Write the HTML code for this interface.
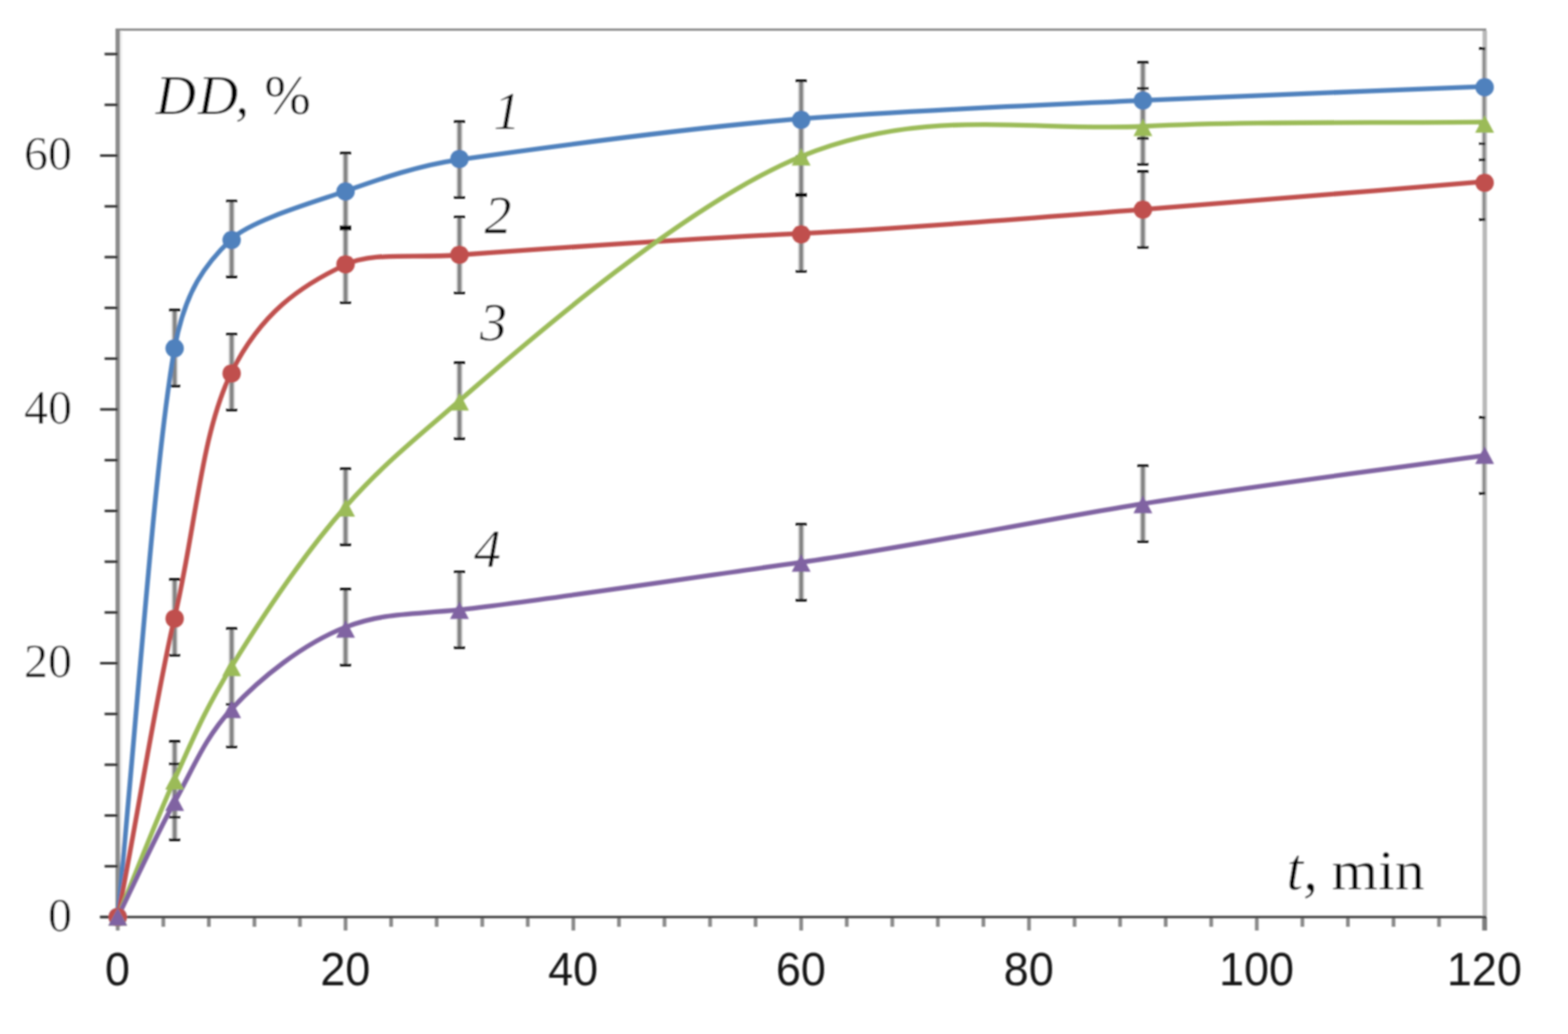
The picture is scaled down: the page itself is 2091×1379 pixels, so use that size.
<!DOCTYPE html>
<html lang="en"><head><meta charset="utf-8"><title>DD vs t</title>
<style>html,body{margin:0;padding:0;background:#fff}svg{display:block}text{font-family:"Liberation Serif",serif;fill:#000;stroke:#fff;stroke-width:0.65px;paint-order:fill stroke}.sans{font-family:"Liberation Sans",sans-serif;stroke:none;fill:#161616}</style></head><body>
<svg width="2091" height="1379" viewBox="0 0 2091 1379">
<defs><filter id="b" x="0" y="0" width="2091" height="1379" filterUnits="userSpaceOnUse"><feGaussianBlur stdDeviation="0.95"/></filter>
<clipPath id="plot"><rect x="157" y="38" width="1823.5" height="1190"/></clipPath></defs>
<rect width="2091" height="1379" fill="#fff"/>
<g filter="url(#b)">
<g fill="none">
<line x1="157" y1="38" x2="157" y2="1224" stroke="#8c8c8c" stroke-width="6"/>
<line x1="161.5" y1="41" x2="161.5" y2="1221" stroke="#efefef" stroke-width="3"/>
<line x1="154" y1="39.5" x2="1982" y2="39.5" stroke="#8a8a8a" stroke-width="3"/>
<line x1="1980" y1="41" x2="1980" y2="1222" stroke="#b9b9b9" stroke-width="6"/>
</g>
<g stroke="#2a2a2a" stroke-width="3.2">
<line x1="133.5" y1="1223.0" x2="157" y2="1223.0"/>
<line x1="139.5" y1="1155.3" x2="157" y2="1155.3"/>
<line x1="139.5" y1="1087.6" x2="157" y2="1087.6"/>
<line x1="139.5" y1="1019.9" x2="157" y2="1019.9"/>
<line x1="139.5" y1="952.2" x2="157" y2="952.2"/>
<line x1="133.5" y1="884.5" x2="157" y2="884.5"/>
<line x1="139.5" y1="816.8" x2="157" y2="816.8"/>
<line x1="139.5" y1="749.1" x2="157" y2="749.1"/>
<line x1="139.5" y1="681.4" x2="157" y2="681.4"/>
<line x1="139.5" y1="613.7" x2="157" y2="613.7"/>
<line x1="133.5" y1="546.0" x2="157" y2="546.0"/>
<line x1="139.5" y1="478.3" x2="157" y2="478.3"/>
<line x1="139.5" y1="410.6" x2="157" y2="410.6"/>
<line x1="139.5" y1="342.9" x2="157" y2="342.9"/>
<line x1="139.5" y1="275.2" x2="157" y2="275.2"/>
<line x1="133.5" y1="207.5" x2="157" y2="207.5"/>
<line x1="139.5" y1="139.8" x2="157" y2="139.8"/>
<line x1="139.5" y1="72.1" x2="157" y2="72.1"/>
</g>
<g stroke="#8a8a8a" stroke-width="5">
<line x1="157.0" y1="1223" x2="157.0" y2="1241.0"/>
<line x1="217.8" y1="1223" x2="217.8" y2="1236.0"/>
<line x1="278.5" y1="1223" x2="278.5" y2="1236.0"/>
<line x1="339.3" y1="1223" x2="339.3" y2="1236.0"/>
<line x1="400.0" y1="1223" x2="400.0" y2="1236.0"/>
<line x1="460.8" y1="1223" x2="460.8" y2="1241.0"/>
<line x1="521.6" y1="1223" x2="521.6" y2="1236.0"/>
<line x1="582.3" y1="1223" x2="582.3" y2="1236.0"/>
<line x1="643.1" y1="1223" x2="643.1" y2="1236.0"/>
<line x1="703.8" y1="1223" x2="703.8" y2="1236.0"/>
<line x1="764.6" y1="1223" x2="764.6" y2="1241.0"/>
<line x1="825.4" y1="1223" x2="825.4" y2="1236.0"/>
<line x1="886.1" y1="1223" x2="886.1" y2="1236.0"/>
<line x1="946.9" y1="1223" x2="946.9" y2="1236.0"/>
<line x1="1007.6" y1="1223" x2="1007.6" y2="1236.0"/>
<line x1="1068.4" y1="1223" x2="1068.4" y2="1241.0"/>
<line x1="1129.2" y1="1223" x2="1129.2" y2="1236.0"/>
<line x1="1189.9" y1="1223" x2="1189.9" y2="1236.0"/>
<line x1="1250.7" y1="1223" x2="1250.7" y2="1236.0"/>
<line x1="1311.4" y1="1223" x2="1311.4" y2="1236.0"/>
<line x1="1372.2" y1="1223" x2="1372.2" y2="1241.0"/>
<line x1="1433.0" y1="1223" x2="1433.0" y2="1236.0"/>
<line x1="1493.7" y1="1223" x2="1493.7" y2="1236.0"/>
<line x1="1554.5" y1="1223" x2="1554.5" y2="1236.0"/>
<line x1="1615.2" y1="1223" x2="1615.2" y2="1236.0"/>
<line x1="1676.0" y1="1223" x2="1676.0" y2="1241.0"/>
<line x1="1736.8" y1="1223" x2="1736.8" y2="1236.0"/>
<line x1="1797.5" y1="1223" x2="1797.5" y2="1236.0"/>
<line x1="1858.3" y1="1223" x2="1858.3" y2="1236.0"/>
<line x1="1919.0" y1="1223" x2="1919.0" y2="1236.0"/>
<line x1="1979.8" y1="1223" x2="1979.8" y2="1241.0" stroke-width="6.5" stroke="#7c7c7c"/>
</g>
<line x1="133.5" y1="1223" x2="1982" y2="1223" stroke="#333" stroke-width="3.2"/>
<g clip-path="url(#plot)">
<g stroke="#e0e0e0" stroke-width="9">
<line x1="232.9" y1="415.5" x2="232.9" y2="512.7"/>
<line x1="308.9" y1="270.1" x2="308.9" y2="367.3"/>
<line x1="460.8" y1="206.3" x2="460.8" y2="303.5"/>
<line x1="612.7" y1="164.2" x2="612.7" y2="261.4"/>
<line x1="1068.4" y1="109.8" x2="1068.4" y2="207.0"/>
<line x1="1524.1" y1="85.3" x2="1524.1" y2="182.5"/>
<line x1="1979.8" y1="66.7" x2="1979.8" y2="163.9"/>
<line x1="232.9" y1="774.7" x2="232.9" y2="871.9"/>
<line x1="308.9" y1="447.6" x2="308.9" y2="544.8"/>
<line x1="460.8" y1="304.4" x2="460.8" y2="401.6"/>
<line x1="612.7" y1="291.4" x2="612.7" y2="388.6"/>
<line x1="1068.4" y1="262.7" x2="1068.4" y2="359.9"/>
<line x1="1524.1" y1="230.7" x2="1524.1" y2="327.9"/>
<line x1="1979.8" y1="193.6" x2="1979.8" y2="290.8"/>
<line x1="232.9" y1="990.7" x2="232.9" y2="1087.9"/>
<line x1="308.9" y1="840.2" x2="308.9" y2="937.4"/>
<line x1="460.8" y1="627.3" x2="460.8" y2="724.5"/>
<line x1="612.7" y1="485.8" x2="612.7" y2="583.0"/>
<line x1="1068.4" y1="160.0" x2="1068.4" y2="257.2"/>
<line x1="1524.1" y1="119.9" x2="1524.1" y2="217.1"/>
<line x1="1979.8" y1="114.0" x2="1979.8" y2="211.2"/>
<line x1="232.9" y1="1020.8" x2="232.9" y2="1118.0"/>
<line x1="308.9" y1="896.9" x2="308.9" y2="994.1"/>
<line x1="460.8" y1="787.8" x2="460.8" y2="885.0"/>
<line x1="612.7" y1="764.6" x2="612.7" y2="861.8"/>
<line x1="1068.4" y1="701.3" x2="1068.4" y2="798.5"/>
<line x1="1524.1" y1="623.2" x2="1524.1" y2="720.4"/>
<line x1="1979.8" y1="558.8" x2="1979.8" y2="656.0"/>
</g><g stroke="#848484" stroke-width="5.4">
<line x1="232.9" y1="413.5" x2="232.9" y2="514.7"/>
<line x1="308.9" y1="268.1" x2="308.9" y2="369.3"/>
<line x1="460.8" y1="204.3" x2="460.8" y2="305.5"/>
<line x1="612.7" y1="162.2" x2="612.7" y2="263.4"/>
<line x1="1068.4" y1="107.8" x2="1068.4" y2="209.0"/>
<line x1="1524.1" y1="83.3" x2="1524.1" y2="184.5"/>
<line x1="1979.8" y1="64.7" x2="1979.8" y2="165.9"/>
<line x1="232.9" y1="772.7" x2="232.9" y2="873.9"/>
<line x1="308.9" y1="445.6" x2="308.9" y2="546.8"/>
<line x1="460.8" y1="302.4" x2="460.8" y2="403.6"/>
<line x1="612.7" y1="289.4" x2="612.7" y2="390.6"/>
<line x1="1068.4" y1="260.7" x2="1068.4" y2="361.9"/>
<line x1="1524.1" y1="228.7" x2="1524.1" y2="329.9"/>
<line x1="1979.8" y1="191.6" x2="1979.8" y2="292.8"/>
<line x1="232.9" y1="988.7" x2="232.9" y2="1089.9"/>
<line x1="308.9" y1="838.2" x2="308.9" y2="939.4"/>
<line x1="460.8" y1="625.3" x2="460.8" y2="726.5"/>
<line x1="612.7" y1="483.8" x2="612.7" y2="585.0"/>
<line x1="1068.4" y1="158.0" x2="1068.4" y2="259.2"/>
<line x1="1524.1" y1="117.9" x2="1524.1" y2="219.1"/>
<line x1="1979.8" y1="112.0" x2="1979.8" y2="213.2"/>
<line x1="232.9" y1="1018.8" x2="232.9" y2="1120.0"/>
<line x1="308.9" y1="894.9" x2="308.9" y2="996.1"/>
<line x1="460.8" y1="785.8" x2="460.8" y2="887.0"/>
<line x1="612.7" y1="762.6" x2="612.7" y2="863.8"/>
<line x1="1068.4" y1="699.3" x2="1068.4" y2="800.5"/>
<line x1="1524.1" y1="621.2" x2="1524.1" y2="722.4"/>
<line x1="1979.8" y1="556.8" x2="1979.8" y2="658.0"/>
</g><g stroke="#000" stroke-width="3.4">
<line x1="225.6" y1="413.5" x2="240.2" y2="413.5"/>
<line x1="225.6" y1="514.7" x2="240.2" y2="514.7"/>
<line x1="301.6" y1="268.1" x2="316.2" y2="268.1"/>
<line x1="301.6" y1="369.3" x2="316.2" y2="369.3"/>
<line x1="453.5" y1="204.3" x2="468.1" y2="204.3"/>
<line x1="453.5" y1="305.5" x2="468.1" y2="305.5"/>
<line x1="605.4" y1="162.2" x2="620.0" y2="162.2"/>
<line x1="605.4" y1="263.4" x2="620.0" y2="263.4"/>
<line x1="1061.1" y1="107.8" x2="1075.7" y2="107.8"/>
<line x1="1061.1" y1="209.0" x2="1075.7" y2="209.0"/>
<line x1="1516.8" y1="83.3" x2="1531.4" y2="83.3"/>
<line x1="1516.8" y1="184.5" x2="1531.4" y2="184.5"/>
<line x1="1972.5" y1="64.7" x2="1987.1" y2="64.7"/>
<line x1="1972.5" y1="165.9" x2="1987.1" y2="165.9"/>
<line x1="225.6" y1="772.7" x2="240.2" y2="772.7"/>
<line x1="225.6" y1="873.9" x2="240.2" y2="873.9"/>
<line x1="301.6" y1="445.6" x2="316.2" y2="445.6"/>
<line x1="301.6" y1="546.8" x2="316.2" y2="546.8"/>
<line x1="453.5" y1="302.4" x2="468.1" y2="302.4"/>
<line x1="453.5" y1="403.6" x2="468.1" y2="403.6"/>
<line x1="605.4" y1="289.4" x2="620.0" y2="289.4"/>
<line x1="605.4" y1="390.6" x2="620.0" y2="390.6"/>
<line x1="1061.1" y1="260.7" x2="1075.7" y2="260.7"/>
<line x1="1061.1" y1="361.9" x2="1075.7" y2="361.9"/>
<line x1="1516.8" y1="228.7" x2="1531.4" y2="228.7"/>
<line x1="1516.8" y1="329.9" x2="1531.4" y2="329.9"/>
<line x1="1972.5" y1="191.6" x2="1987.1" y2="191.6"/>
<line x1="1972.5" y1="292.8" x2="1987.1" y2="292.8"/>
<line x1="225.6" y1="988.7" x2="240.2" y2="988.7"/>
<line x1="225.6" y1="1089.9" x2="240.2" y2="1089.9"/>
<line x1="301.6" y1="838.2" x2="316.2" y2="838.2"/>
<line x1="301.6" y1="939.4" x2="316.2" y2="939.4"/>
<line x1="453.5" y1="625.3" x2="468.1" y2="625.3"/>
<line x1="453.5" y1="726.5" x2="468.1" y2="726.5"/>
<line x1="605.4" y1="483.8" x2="620.0" y2="483.8"/>
<line x1="605.4" y1="585.0" x2="620.0" y2="585.0"/>
<line x1="1061.1" y1="158.0" x2="1075.7" y2="158.0"/>
<line x1="1061.1" y1="259.2" x2="1075.7" y2="259.2"/>
<line x1="1516.8" y1="117.9" x2="1531.4" y2="117.9"/>
<line x1="1516.8" y1="219.1" x2="1531.4" y2="219.1"/>
<line x1="1972.5" y1="112.0" x2="1987.1" y2="112.0"/>
<line x1="1972.5" y1="213.2" x2="1987.1" y2="213.2"/>
<line x1="225.6" y1="1018.8" x2="240.2" y2="1018.8"/>
<line x1="225.6" y1="1120.0" x2="240.2" y2="1120.0"/>
<line x1="301.6" y1="894.9" x2="316.2" y2="894.9"/>
<line x1="301.6" y1="996.1" x2="316.2" y2="996.1"/>
<line x1="453.5" y1="785.8" x2="468.1" y2="785.8"/>
<line x1="453.5" y1="887.0" x2="468.1" y2="887.0"/>
<line x1="605.4" y1="762.6" x2="620.0" y2="762.6"/>
<line x1="605.4" y1="863.8" x2="620.0" y2="863.8"/>
<line x1="1061.1" y1="699.3" x2="1075.7" y2="699.3"/>
<line x1="1061.1" y1="800.5" x2="1075.7" y2="800.5"/>
<line x1="1516.8" y1="621.2" x2="1531.4" y2="621.2"/>
<line x1="1516.8" y1="722.4" x2="1531.4" y2="722.4"/>
<line x1="1972.5" y1="556.8" x2="1987.1" y2="556.8"/>
<line x1="1972.5" y1="658.0" x2="1987.1" y2="658.0"/>
</g></g>
<path d="M157.0,1223.0 C181.8,970.6 205.7,616.5 232.9,464.1 C246.4,388.7 274.3,351.2 308.9,318.7 C336.2,293.1 421.1,268.9 460.8,254.9 C504.6,239.5 556.6,220.7 612.7,212.8 C715.6,198.3 914.5,170.5 1068.4,158.4 C1220.4,146.5 1372.2,141.1 1524.1,133.9 C1676.0,126.7 1827.9,121.5 1979.8,115.3" fill="none" stroke="#4f81bd" stroke-width="6.3" stroke-linecap="round" stroke-linejoin="round"/>
<path d="M157.0,1223.0 C184.7,1082.9 207.4,932.2 232.9,823.3 C261.3,702.8 268.2,577.5 308.9,496.2 C348.3,417.6 400.4,381.2 460.8,353.0 C498.1,335.6 548.7,344.6 612.7,340.0 C708.0,333.1 918.1,318.4 1068.4,311.3 C1220.5,304.1 1372.2,290.8 1524.1,279.3 C1676.0,267.8 1827.9,254.6 1979.8,242.2" fill="none" stroke="#c0504d" stroke-width="6.3" stroke-linecap="round" stroke-linejoin="round"/>
<path d="M157.0,1223.0 C182.3,1161.8 207.6,1095.0 232.9,1039.3 C258.3,983.6 271.4,949.6 308.9,888.8 C349.4,823.1 405.7,738.4 460.8,675.9 C511.9,617.9 557.0,583.1 612.7,534.4 C708.0,451.1 917.1,270.8 1068.4,208.6 C1231.4,141.6 1371.5,175.7 1524.1,168.5 C1676.0,161.3 1827.9,164.6 1979.8,162.6" fill="none" stroke="#9bbb59" stroke-width="6.3" stroke-linecap="round" stroke-linejoin="round"/>
<path d="M157.0,1223.0 C182.3,1171.8 207.3,1115.5 232.9,1069.4 C257.6,1025.2 272.2,985.1 308.9,945.5 C346.9,904.5 404.2,858.5 460.8,836.4 C511.4,816.7 552.0,819.8 612.7,813.2 C717.6,801.8 912.5,771.7 1068.4,749.9 C1220.3,728.7 1369.8,696.6 1524.1,671.8 C1675.9,647.4 1827.9,628.9 1979.8,607.4" fill="none" stroke="#8064a2" stroke-width="6.3" stroke-linecap="round" stroke-linejoin="round"/>
<circle cx="157.0" cy="1223.0" r="12.3" fill="#4f81bd"/>
<circle cx="232.9" cy="464.6" r="12.3" fill="#4f81bd"/>
<circle cx="308.9" cy="320.1" r="12.3" fill="#4f81bd"/>
<circle cx="460.8" cy="255.4" r="12.3" fill="#4f81bd"/>
<circle cx="612.7" cy="212.0" r="12.3" fill="#4f81bd"/>
<circle cx="1068.4" cy="159.7" r="12.3" fill="#4f81bd"/>
<circle cx="1524.1" cy="134.0" r="12.3" fill="#4f81bd"/>
<circle cx="1979.8" cy="116.4" r="12.3" fill="#4f81bd"/>
<circle cx="157.0" cy="1223.0" r="12.3" fill="#c0504d"/>
<circle cx="232.9" cy="825.0" r="12.3" fill="#c0504d"/>
<circle cx="308.9" cy="498.0" r="12.3" fill="#c0504d"/>
<circle cx="460.8" cy="352.5" r="12.3" fill="#c0504d"/>
<circle cx="612.7" cy="339.8" r="12.3" fill="#c0504d"/>
<circle cx="1068.4" cy="312.6" r="12.3" fill="#c0504d"/>
<circle cx="1524.1" cy="279.6" r="12.3" fill="#c0504d"/>
<circle cx="1979.8" cy="243.8" r="12.3" fill="#c0504d"/>
<path d="M157.0,1211.0 L169.6,1234.6 L144.4,1234.6 Z" fill="#9bbb59"/>
<path d="M232.9,1029.5 L245.5,1053.1 L220.3,1053.1 Z" fill="#9bbb59"/>
<path d="M308.9,878.2 L321.5,901.8 L296.3,901.8 Z" fill="#9bbb59"/>
<path d="M460.8,665.5 L473.4,689.1 L448.2,689.1 Z" fill="#9bbb59"/>
<path d="M612.7,524.0 L625.3,547.6 L600.1,547.6 Z" fill="#9bbb59"/>
<path d="M1068.4,197.2 L1081.0,220.8 L1055.8,220.8 Z" fill="#9bbb59"/>
<path d="M1524.1,158.0 L1536.7,181.6 L1511.5,181.6 Z" fill="#9bbb59"/>
<path d="M1979.8,153.4 L1992.4,177.0 L1967.2,177.0 Z" fill="#9bbb59"/>
<path d="M157.0,1211.0 L169.6,1234.6 L144.4,1234.6 Z" fill="#8064a2"/>
<path d="M232.9,1057.8 L245.5,1081.4 L220.3,1081.4 Z" fill="#8064a2"/>
<path d="M308.9,934.2 L321.5,957.8 L296.3,957.8 Z" fill="#8064a2"/>
<path d="M460.8,827.0 L473.4,850.6 L448.2,850.6 Z" fill="#8064a2"/>
<path d="M612.7,802.0 L625.3,825.6 L600.1,825.6 Z" fill="#8064a2"/>
<path d="M1068.4,738.8 L1081.0,762.4 L1055.8,762.4 Z" fill="#8064a2"/>
<path d="M1524.1,660.8 L1536.7,684.4 L1511.5,684.4 Z" fill="#8064a2"/>
<path d="M1979.8,595.2 L1992.4,618.8 L1967.2,618.8 Z" fill="#8064a2"/>
</g>
<g filter="url(#b)">
<text x="96" y="1241.6" font-size="64" text-anchor="end">0</text>
<text x="96" y="903.1" font-size="64" text-anchor="end">20</text>
<text x="96" y="564.6" font-size="64" text-anchor="end">40</text>
<text x="96" y="226.1" font-size="64" text-anchor="end">60</text>
<text class="sans" x="156.7" y="1313.8" font-size="63.0" text-anchor="middle" textLength="33.3" lengthAdjust="spacingAndGlyphs">0</text>
<text class="sans" x="460.5" y="1313.8" font-size="63.0" text-anchor="middle" textLength="66.6" lengthAdjust="spacingAndGlyphs">20</text>
<text class="sans" x="764.3" y="1313.8" font-size="63.0" text-anchor="middle" textLength="66.6" lengthAdjust="spacingAndGlyphs">40</text>
<text class="sans" x="1068.1" y="1313.8" font-size="63.0" text-anchor="middle" textLength="66.6" lengthAdjust="spacingAndGlyphs">60</text>
<text class="sans" x="1371.9" y="1313.8" font-size="63.0" text-anchor="middle" textLength="66.6" lengthAdjust="spacingAndGlyphs">80</text>
<text class="sans" x="1675.7" y="1313.8" font-size="63.0" text-anchor="middle" textLength="99.9" lengthAdjust="spacingAndGlyphs">100</text>
<text class="sans" x="1979.5" y="1313.8" font-size="63.0" text-anchor="middle" textLength="99.9" lengthAdjust="spacingAndGlyphs">120</text>
<text x="207.4" y="152" font-size="74.5" dx="0 2.5 -3.7 0 1.3"><tspan font-style="italic">DD,</tspan> %</text>
<text x="1715.5" y="1186" font-size="80"><tspan font-style="italic">t,</tspan> <tspan x="1775.5" font-size="74" textLength="124.5" lengthAdjust="spacingAndGlyphs" style="stroke-width:0.5px">min</tspan></text>
<text x="658.0" y="172.4" font-size="72" font-style="italic">1</text>
<text x="646.0" y="310.6" font-size="72" font-style="italic">2</text>
<text x="640.0" y="454.0" font-size="72" font-style="italic">3</text>
<text x="632.0" y="756.2" font-size="72" font-style="italic">4</text>
</g>
</svg></body></html>
